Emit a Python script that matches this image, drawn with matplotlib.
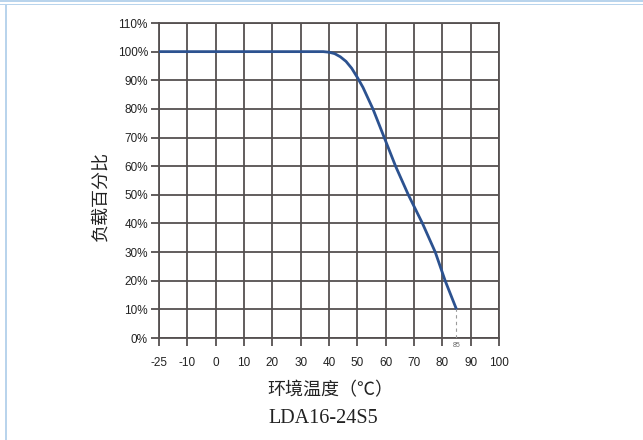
import numpy as np
import matplotlib
matplotlib.use("Agg")
import matplotlib.pyplot as plt
from matplotlib.patches import Rectangle

plt.rcParams['font.family'] = ['Liberation Sans', 'Noto Sans CJK SC', 'DejaVu Sans']

# derating curve
temps = [-25, 38, 40, 42, 44, 46, 48, 50, 52, 55.5, 59.5, 63.5, 68, 73, 77.5, 81, 85]
load = [100, 100, 99.8, 99.3, 98.2, 96.6, 94.2, 91, 87.5, 80, 70, 60, 50, 40, 30, 20, 10]

x_ticks = [-25, -10, 0, 10, 20, 30, 40, 50, 60, 70, 80, 90, 100]
y_ticks = [0, 10, 20, 30, 40, 50, 60, 70, 80, 90, 100, 110]
y_tick_labels = [f"{v}%" for v in y_ticks]
max_temp = 85
model = "LDA16-24S5"

# the x axis is spaced evenly by tick, -25 sits one step left of -10
tick_pos = np.arange(len(x_ticks))


def to_pos(t):
    return np.interp(t, x_ticks, tick_pos)


W, H = 643, 440
fig = plt.figure(figsize=(W / 100, H / 100), dpi=100)

# light blue frame at top and left
blue = '#b9d4ec'
fig.add_artist(Rectangle((0, 1 - 2.5 / H), 1, 2.5 / H, transform=fig.transFigure, color=blue, lw=0))
fig.add_artist(Rectangle((0, 1 - 5.5 / H), 1, 1.8 / H, transform=fig.transFigure, color=blue, lw=0))
fig.add_artist(Rectangle((5.3 / W, 0), 2 / W, 1 - 4 / H, transform=fig.transFigure, color=blue, lw=0))

ax = fig.add_axes([159 / W, 1 - 338 / H, (499 - 159) / W, (338 - 23) / H])

grid_col = '#555050'
ax.set_xlim(tick_pos[0], tick_pos[-1])
ax.set_ylim(0, 110)
ax.set_xticks(tick_pos)
ax.set_xticklabels([str(v) for v in x_ticks])
ax.set_yticks(y_ticks)
ax.set_yticklabels(y_tick_labels)
ax.grid(True, color=grid_col, lw=1.3)
ax.set_axisbelow(True)
for s in ax.spines.values():
    s.set_color(grid_col)
    s.set_linewidth(1.3)
ax.tick_params(direction='out', length=6, width=1.3, color=grid_col,
               labelsize=8.5, labelcolor='#222222')
ax.tick_params(axis='x', pad=8)
ax.tick_params(axis='y', pad=2)

ax.plot(to_pos(temps), load, color='#2c5290', lw=2.0, solid_capstyle='butt', zorder=3)
ax.plot([to_pos(max_temp)] * 2, [0, load[-1]], color='#9a9a9a', lw=0.8, ls=(0, (3, 3)), zorder=3)
ax.text(to_pos(max_temp), -1.5, str(max_temp), fontsize=5, color='#666666',
        ha='center', va='top', family=['Liberation Sans'])

# axis titles
fig.text(101 / W, 1 - 196 / H, '负载百分比', family=['Noto Sans CJK SC'], fontsize=13,
         color='#222222', rotation=90, ha='center', va='center')
fig.text(330 / W, 1 - 390 / H, '环境温度（℃）', family=['Noto Sans CJK SC'], fontsize=13,
         color='#222222', ha='center', va='center')

fig.text(323 / W, 1 - 418 / H, model, family=['Liberation Serif'], fontsize=14.5,
         ha='center', va='center', color='#222222')

fig.savefig('out.png', dpi=100)
